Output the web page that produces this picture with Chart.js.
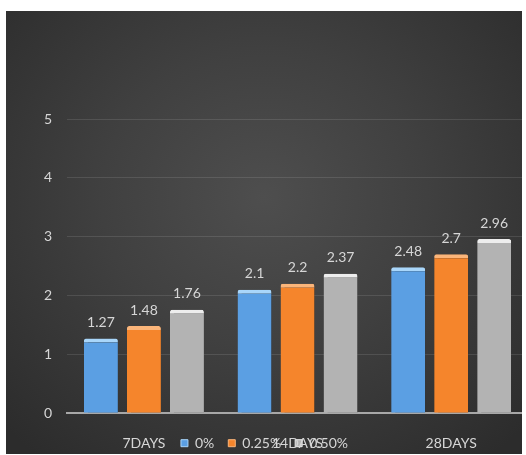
<!DOCTYPE html>
<html>
<head>
<meta charset="utf-8">
<script src="https://cdn.jsdelivr.net/npm/chart.js@4/dist/chart.umd.min.js"></script>
<style>
  html, body { margin: 0; padding: 0; background: #fff; }
  #frame {
    position: absolute; left: 6px; top: 11px; width: 516px; height: 443px;
    overflow: hidden;
    background: radial-gradient(ellipse 70% 75% at 50% 42%, #4e4e4e 0%, #404040 45%, #2c2c2c 100%);
  }
  #frame canvas { position: absolute; left: 0; top: 0; }
</style>
</head>
<body>
<div id="frame"><canvas id="chart" width="522" height="443"></canvas></div>
<script>
// categories and series
const categories = ['7DAYS', '14DAYS', '28DAYS'];
const series0 = [1.27, 2.1, 2.48];     // 0%
const series025 = [1.48, 2.2, 2.7];    // 0.25%
const series050 = [1.76, 2.37, 2.96];  // 0.50%
const seriesNames = ['0%', '0.25%', '0.50%'];
const yTicks = [0, 1, 2, 3, 4, 5];

const FONT = 'Lato, "Open Sans", sans-serif';
const TEXT = '#d6d6d6';

// hard shadow to the right of each bar
const shadowPlugin = {
  id: 'barShadow',
  beforeDatasetDraw(chart) {
    const ctx = chart.ctx;
    ctx.save();
    ctx.shadowColor = 'rgba(0,0,0,0.35)';
    ctx.shadowBlur = 0;
    ctx.shadowOffsetX = 4;
    ctx.shadowOffsetY = 0;
  },
  afterDatasetDraw(chart) {
    chart.ctx.restore();
  }
};

// value labels above the bars
const valueLabels = {
  id: 'valueLabels',
  afterDatasetsDraw(chart) {
    const ctx = chart.ctx;
    ctx.save();
    ctx.fillStyle = TEXT;
    ctx.font = '14px ' + FONT;
    ctx.textAlign = 'center';
    ctx.textBaseline = 'bottom';
    chart.data.datasets.forEach((ds, i) => {
      chart.getDatasetMeta(i).data.forEach((bar, j) => {
        ctx.fillText(String(ds.data[j]), bar.x, bar.y - 9);
      });
    });
    ctx.restore();
  }
};

// the legend in the original sits on the same line as the category labels
const legendOnAxis = {
  id: 'legendOnAxis',
  afterLayout(chart) {
    const lg = chart.legend, x = chart.scales.x;
    const h = lg.bottom - lg.top;
    const labelMid = x.top + x.options.ticks.padding + 8;
    lg.top = labelMid - lg.options.labels.padding - 7;
    lg.bottom = lg.top + h;
    lg.left -= 14;
    lg.right -= 14;
  }
};

new Chart(document.getElementById('chart'), {
  type: 'bar',
  data: {
    labels: categories,
    datasets: [
      { label: seriesNames[0], data: series0, backgroundColor: '#5b9fe3', borderColor: '#a9d6fa' },
      { label: seriesNames[1], data: series025, backgroundColor: '#f5852c', borderColor: '#fbb57a' },
      { label: seriesNames[2], data: series050, backgroundColor: '#b3b3b3', borderColor: '#ededed' }
    ].map(d => Object.assign(d, {
      borderWidth: { top: 4, left: 0, right: 0, bottom: 0 },
      borderSkipped: 'bottom',
      borderRadius: { topLeft: 2, topRight: 2 },
      categoryPercentage: 0.84,
      barPercentage: 0.79
    }))
  },
  options: {
    responsive: false,
    animation: false,
    layout: { padding: { left: 23, top: 108, right: 0, bottom: -58 } },
    plugins: {
      tooltip: { enabled: false },
      legend: {
        position: 'bottom',
        labels: {
          color: TEXT,
          font: { family: FONT, size: 14 },
          boxWidth: 7,
          boxHeight: 7,
          padding: 14
        }
      }
    },
    scales: {
      x: {
        grid: { display: false, drawTicks: false },
        border: { color: '#a8a8a8', width: 2 },
        ticks: { color: TEXT, font: { family: FONT, size: 14 }, padding: 22 }
      },
      y: {
        min: 0,
        max: 5,
        afterBuildTicks(axis) { axis.ticks = yTicks.map(v => ({ value: v })); },
        grid: { color: 'rgba(255,255,255,0.11)', drawTicks: false },
        border: { display: false },
        ticks: { color: TEXT, font: { family: FONT, size: 14 }, padding: 15 }
      }
    }
  },
  plugins: [shadowPlugin, valueLabels, legendOnAxis]
});
</script>
</body>
</html>
